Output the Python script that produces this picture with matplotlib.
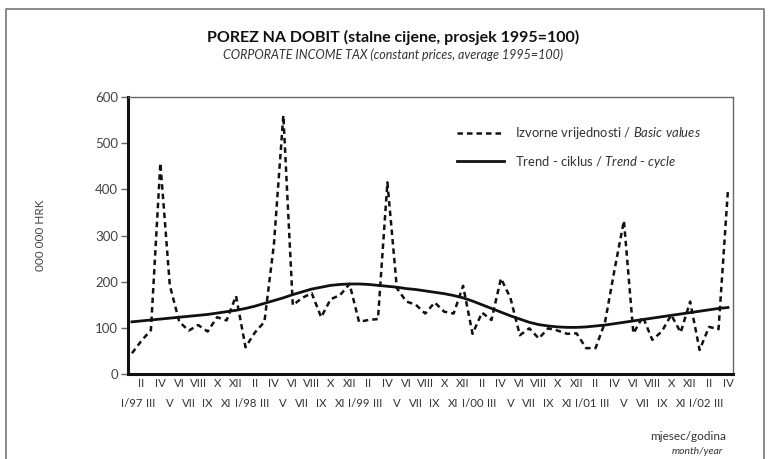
import numpy as np
import matplotlib
matplotlib.use("Agg")
import matplotlib.pyplot as plt
from matplotlib.lines import Line2D

plt.rcParams["font.family"] = ["Lato", "DejaVu Sans"]
plt.rcParams["mathtext.fontset"] = "custom"
plt.rcParams["mathtext.rm"] = "Lato"
plt.rcParams["mathtext.it"] = "Lato:italic"

# monthly data I/1997 - IV/2002
months = ["I", "II", "III", "IV", "V", "VI", "VII", "VIII", "IX", "X", "XI", "XII"]
years = ["97", "98", "99", "00", "01", "02"]

basic_values = [45, 72, 95, 457, 192, 113, 94, 106, 92, 123, 116, 169,
                58, 90, 113, 280, 560, 149, 165, 175, 123, 162, 171, 195,
                113, 117, 119, 415, 186, 157, 150, 131, 155, 135, 131, 191,
                87, 133, 117, 207, 165, 84, 99, 77, 99, 94, 87, 88,
                56, 56, 112, 225, 332, 88, 124, 74, 92, 128, 90, 157,
                52, 102, 97, 400]

trend_cycle = [113, 115, 117, 119, 121, 123, 125, 127, 129, 132, 135, 138,
               142, 147, 153, 159, 165, 172, 178, 184, 188, 192, 194, 195,
               195, 194, 192, 190, 188, 185, 183, 180, 177, 174, 170, 165,
               158, 150, 142, 134, 126, 119, 112, 107, 104, 102, 101, 101,
               102, 104, 106, 109, 112, 115, 118, 121, 124, 127, 130, 133,
               136, 139, 142, 144]

tick_labels = []
for i in range(len(basic_values)):
    m = months[i % 12]
    if i % 12 == 0:
        m = f"{m}/{years[i // 12]}"
    tick_labels.append(m)

W, H = 769, 459
fig = plt.figure(figsize=(W / 100, H / 100), dpi=100)

# page frame
frame = Line2D([6 / W, 6 / W, 764 / W, 764 / W], [0, 1 - 9 / H, 1 - 9 / H, 0],
               transform=fig.transFigure, color="#777777", lw=1.2)
fig.add_artist(frame)

ax = fig.add_axes([128 / W, (H - 374) / H, (733 - 128) / W, (374 - 97) / H])
x = np.arange(len(basic_values))
ax.plot(x, basic_values, color="#111111", lw=1.8, dashes=(2.2, 1.6),
        label="Izvorne vrijednosti / $\\it{Basic\\ values}$")
ax.plot(x, trend_cycle, color="#111111", lw=2.0,
        label="Trend - ciklus / $\\it{Trend}$ - $\\it{cycle}$")

ax.set_xlim(-0.42, 63.53)
ax.set_ylim(0, 600)
ax.set_yticks(range(0, 601, 100))

# even months on the upper row, odd months (with I/yy) on the lower row
ax.set_xticks(x[1::2])
ax.set_xticklabels(tick_labels[1::2], fontsize=8.2, color="#333333")
ax.set_xticks(x[0::2], minor=True)
ax.set_xticklabels(tick_labels[0::2], minor=True, fontsize=8.2, color="#333333")
ax.tick_params(axis="x", which="major", length=0, pad=3)
ax.tick_params(axis="x", which="minor", length=0, pad=17)
ax.tick_params(axis="y", length=5, width=1, color="#666666", labelsize=9.5,
               labelcolor="#444444", pad=2)

for s in ["left", "bottom"]:
    ax.spines[s].set_linewidth(2.2)
    ax.spines[s].set_color("#111111")
for s in ["top", "right"]:
    ax.spines[s].set_linewidth(1)
    ax.spines[s].set_color("#666666")

leg = ax.legend(loc="upper left", bbox_to_anchor=(0.525, 0.94), frameon=False,
                fontsize=9.4, handlelength=3.6, handletextpad=0.8, labelspacing=0.95)
for t in leg.get_texts():
    t.set_color("#333333")

fig.text(393 / W, 1 - 37 / H, "POREZ NA DOBIT (stalne cijene, prosjek 1995=100)",
         ha="center", va="center", fontsize=11.5, fontweight="bold", color="#111111")
fig.text(393 / W, 1 - 55 / H, "CORPORATE INCOME TAX (constant prices, average 1995=100)",
         ha="center", va="center", fontsize=9, style="italic", color="#333333")
fig.text(40 / W, 1 - 235 / H, "000 000 HRK", rotation=90, ha="center", va="center",
         fontsize=8.5, color="#444444")
fig.text(726 / W, 1 - 437 / H, "mjesec/godina", ha="right", va="center",
         fontsize=8.5, color="#333333")
fig.text(723 / W, 1 - 451 / H, "month/year", ha="right", va="center",
         fontsize=7.5, style="italic", color="#333333")

fig.savefig("out.png", dpi=100)
